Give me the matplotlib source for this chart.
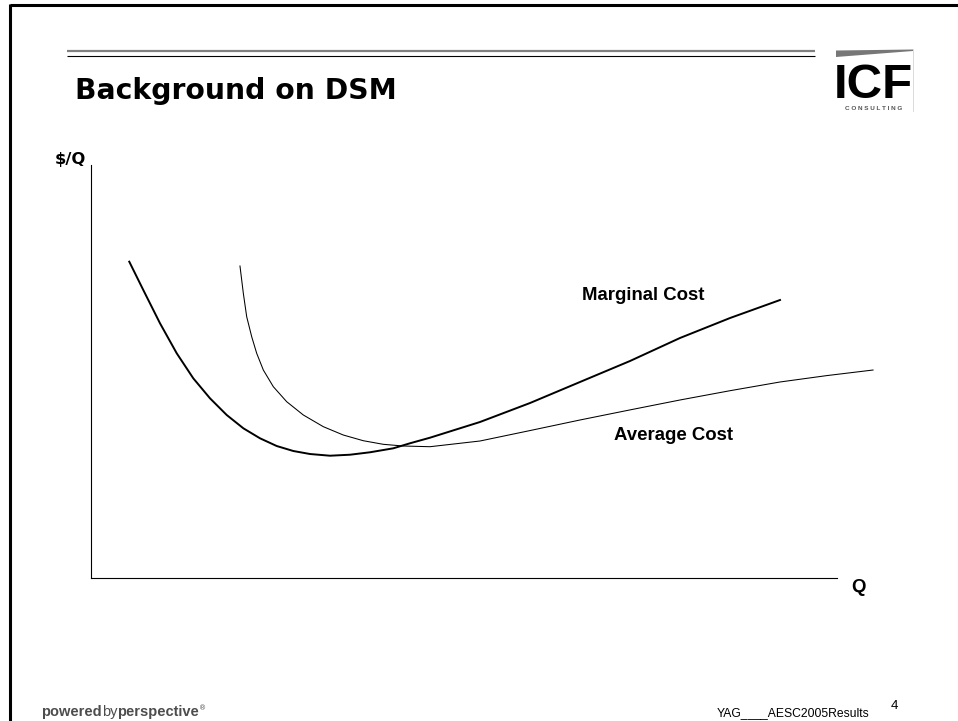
"""
Slide 4: Background on DSM - marginal vs average cost curves.
"""

import matplotlib
matplotlib.use("Agg")
import matplotlib.pyplot as plt
from matplotlib.patches import Polygon

# ── Curve data (Q, $/Q) ─────────────────────────────────────────────────────
mc_q = [5.13, 7.01, 9.25, 11.49, 13.71, 15.95, 18.19, 20.42, 22.65, 24.89,
        27.12, 29.36, 32.04, 34.72, 37.40, 40.52, 42.76, 45.44, 52.14, 58.85,
        65.55, 72.25, 78.95, 85.66, 92.36]
mc_cost = [76.59, 69.73, 61.67, 54.41, 48.35, 43.51, 39.47, 36.25, 33.83, 31.96,
           30.75, 30.02, 29.61, 29.85, 30.44, 31.40, 32.62, 33.97, 37.77, 42.37,
           47.46, 52.54, 58.11, 62.95, 67.31]

ac_q = [19.97, 20.42, 20.87, 21.54, 22.21, 23.10, 24.44, 26.23, 28.46, 31.14,
        33.82, 36.50, 39.18, 41.86, 45.44, 52.14, 58.85, 65.55, 72.25, 78.95,
        85.66, 92.36, 98.60, 104.83]
ac_cost = [75.54, 68.93, 63.27, 58.43, 54.41, 50.36, 46.32, 42.69, 39.47, 36.64,
           34.62, 33.24, 32.37, 31.96, 31.79, 33.17, 35.70, 38.26, 40.70, 43.10,
           45.35, 47.46, 49.00, 50.36]

mc_label = "Marginal Cost"
ac_label = "Average Cost"
x_label = "Q"
y_label = "$/Q"
title = "Background on DSM"
footer = "YAG____AESC2005Results"
page = "4"

W, H = 958, 721
fig = plt.figure(figsize=(W / 100, H / 100), dpi=100)

# ── Slide decorations (pixel coords) ────────────────────────────────────────
bg = fig.add_axes([0, 0, 1, 1], zorder=0)
bg.set_xlim(0, W)
bg.set_ylim(H, 0)
bg.axis("off")

# frame: top + left edges
bg.plot([10, W], [5, 5], color="black", lw=2.2, solid_capstyle="butt")
bg.plot([10, 10], [4, H], color="black", lw=2.2, solid_capstyle="butt")

# double rule under the header
bg.plot([67, 815], [51, 51], color="#808080", lw=1.6, solid_capstyle="butt")
bg.plot([67, 815], [56, 56], color="black", lw=0.8, solid_capstyle="butt")

bg.text(75, 99, title, fontsize=20.3, fontweight="bold", family="DejaVu Sans",
        va="baseline", ha="left")

# ICF logo
bg.add_patch(Polygon([(836, 50.5), (913, 49.5), (913, 51), (836, 57)],
                     closed=True, color="#777777", lw=0))
bg.plot([913.5, 913.5], [49, 111], color="#f4c8c8", lw=0.6)
bg.text(834, 98, "ICF", fontsize=35.5, fontweight="bold", family="Liberation Sans",
        va="baseline", ha="left")
bg.text(874, 108.5, "C O N S U L T I N G", fontsize=4.6, fontweight="bold",
        family="Liberation Sans", color="#555555", va="center", ha="center")

# footer
t1 = bg.text(41, 716, "powered", fontsize=10.5, fontweight="bold",
             family="Liberation Sans", color="#4d4d4d", va="baseline", ha="left")
t2 = bg.annotate("by", xy=(1, 0), xycoords=t1, fontsize=10.5,
                 family="Liberation Sans", color="#4d4d4d", va="bottom", ha="left")
t3 = bg.annotate("perspective", xy=(1, 0), xycoords=t2, fontsize=10.5,
                 fontweight="bold", family="Liberation Sans", color="#4d4d4d",
                 va="bottom", ha="left")
bg.annotate("\u00ae", xy=(1, 1), xycoords=t3, fontsize=5, family="DejaVu Sans",
            color="#4d4d4d", va="top", ha="left")

bg.text(717, 713, footer, fontsize=8.7, family="Liberation Sans",
        va="center", ha="left")
bg.text(894, 706, page, fontsize=9.5, family="Liberation Sans",
        va="center", ha="center")

# ── Cost chart ──────────────────────────────────────────────────────────────
ax = fig.add_axes([91 / W, (H - 578) / H, 746 / W, 413 / H], zorder=1)
ax.patch.set_alpha(0)
ax.set_xlim(0, 100)
ax.set_ylim(0, 100)
ax.set_xticks([])
ax.set_yticks([])
for side in ("top", "right"):
    ax.spines[side].set_visible(False)
for side in ("left", "bottom"):
    ax.spines[side].set_linewidth(0.8)

ax.plot(mc_q, mc_cost, color="black", lw=1.4, clip_on=False,
        solid_joinstyle="round")
ax.plot(ac_q, ac_cost, color="black", lw=0.75, clip_on=False,
        solid_joinstyle="round")

ax.text(65.8, 68.5, mc_label, fontsize=13.4, fontweight="bold",
        family="Liberation Sans", va="center", ha="left")
ax.text(70.1, 34.6, ac_label, fontsize=13.4, fontweight="bold",
        family="Liberation Sans", va="center", ha="left")

bg.text(859, 587, x_label, fontsize=13.4, fontweight="bold",
        family="Liberation Sans", va="center", ha="center")
bg.text(55, 164, y_label, fontsize=11.8, fontweight="bold", family="DejaVu Sans",
        va="baseline", ha="left")

fig.savefig("out.png", dpi=100)
